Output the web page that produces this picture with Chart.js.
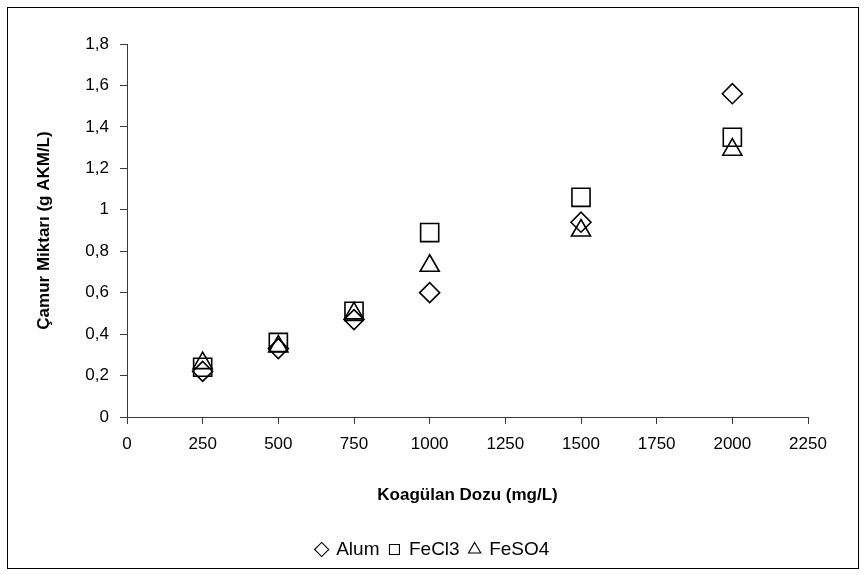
<!DOCTYPE html>
<html>
<head>
<meta charset="utf-8">
<script src="https://cdn.jsdelivr.net/npm/chart.js@4"></script>
<style>
  html, body { margin: 0; padding: 0; background: #ffffff; }
  #wrap { width: 867px; height: 575px; }
</style>
</head>
<body>
<div id="wrap"><canvas id="chart" width="867" height="575"></canvas></div>
<script>
// Coagulant dose (mg/L)
const doses = [250, 500, 750, 1000, 1500, 2000];
// Sludge amount (g AKM/L) per coagulant
const alum  = [0.22, 0.33, 0.47, 0.60, 0.94, 1.56];
const fecl3 = [0.24, 0.36, 0.51, 0.89, 1.06, 1.35];
const feso4 = [0.26, 0.34, 0.50, 0.73, 0.90, 1.29];

const seriesNames = ['Alum', 'FeCl3', 'FeSO4'];
const xTitle = 'Koagülan Dozu (mg/L)';
const yTitle = 'Çamur Miktarı (g AKM/L)';

const FONT = "'Liberation Sans', Arial, Helvetica, sans-serif";
const AXIS_COLOR = '#3a3a3a';

const toPoints = (ys) => doses.map((x, i) => ({ x: x, y: ys[i] }));

// white background and outer frame
const framePlugin = {
  id: 'frame',
  beforeDraw(chart) {
    const ctx = chart.ctx;
    ctx.save();
    ctx.fillStyle = '#ffffff';
    ctx.fillRect(0, 0, chart.width, chart.height);
    ctx.restore();
  },
  afterLayout(chart) {
    // centre the legend inside the frame
    const lg = chart.legend;
    if (lg) {
      lg.left = 8;
      lg.right = 858;
      lg.width = 850;
    }
  },
  afterDraw(chart) {
    const ctx = chart.ctx;
    ctx.save();
    ctx.strokeStyle = '#000000';
    ctx.lineWidth = 1;
    ctx.strokeRect(7.5, 7.5, 851, 561);
    ctx.restore();
  }
};

const markerBase = {
  showLine: false,
  backgroundColor: 'rgba(0,0,0,0)',
  borderColor: '#000000',
  pointBackgroundColor: 'rgba(0,0,0,0)',
  pointBorderColor: '#000000',
  pointBorderWidth: 1.6,
  borderWidth: 1.6,
  pointHoverRadius: 10
};

new Chart(document.getElementById('chart'), {
  type: 'scatter',
  data: {
    datasets: [
      Object.assign({}, markerBase, { label: seriesNames[0], data: toPoints(alum),  pointStyle: 'rectRot',  pointRadius: 10 }),
      Object.assign({}, markerBase, { label: seriesNames[1], data: toPoints(fecl3), pointStyle: 'rect',     pointRadius: 12.8 }),
      Object.assign({}, markerBase, { label: seriesNames[2], data: toPoints(feso4), pointStyle: 'triangle', pointRadius: 11 })
    ]
  },
  options: {
    responsive: false,
    animation: false,
    devicePixelRatio: 1,
    layout: { padding: { top: 44, left: 8, right: 59, bottom: 6 } },
    plugins: {
      tooltip: { enabled: false },
      legend: {
        position: 'bottom',
        align: 'center',
        labels: {
          usePointStyle: true,
          boxWidth: 10,
          boxHeight: 10,
          padding: 10,
          color: '#000000',
          font: { family: FONT, size: 19 },
          generateLabels(chart) {
            const items = Chart.defaults.plugins.legend.labels.generateLabels(chart);
            items.forEach(it => { it.lineWidth = 1.1; it.fillStyle = 'rgba(0,0,0,0)'; });
            return items;
          }
        }
      }
    },
    scales: {
      x: {
        type: 'linear',
        min: 0,
        max: 2250,
        afterFit(scale) { scale.height = 113; },
        ticks: {
          stepSize: 250,
          color: '#000000',
          padding: 10,
          maxRotation: 0,
          font: { family: FONT, size: 17 },
          callback: (v) => String(v)
        },
        grid: { drawOnChartArea: false, drawTicks: true, tickLength: 7, color: AXIS_COLOR, lineWidth: 1 },
        border: { display: true, color: AXIS_COLOR, width: 1 },
        title: {
          display: true,
          text: xTitle,
          color: '#000000',
          font: { family: FONT, size: 17, weight: 'bold' },
          padding: { top: 0, bottom: 24 }
        }
      },
      y: {
        type: 'linear',
        min: 0,
        max: 1.8,
        afterFit(scale) { scale.width = 119; },
        ticks: {
          stepSize: 0.2,
          color: '#000000',
          padding: 11,
          font: { family: FONT, size: 17 },
          callback: (v) => String(Math.round(v * 10) / 10).replace('.', ',')
        },
        grid: { drawOnChartArea: false, drawTicks: true, tickLength: 7, color: AXIS_COLOR, lineWidth: 1 },
        border: { display: true, color: AXIS_COLOR, width: 1 },
        title: {
          display: true,
          text: yTitle,
          color: '#000000',
          font: { family: FONT, size: 17, weight: 'bold' },
          padding: { top: 26, bottom: 0 }
        }
      }
    }
  },
  plugins: [framePlugin]
});
</script>
</body>
</html>
